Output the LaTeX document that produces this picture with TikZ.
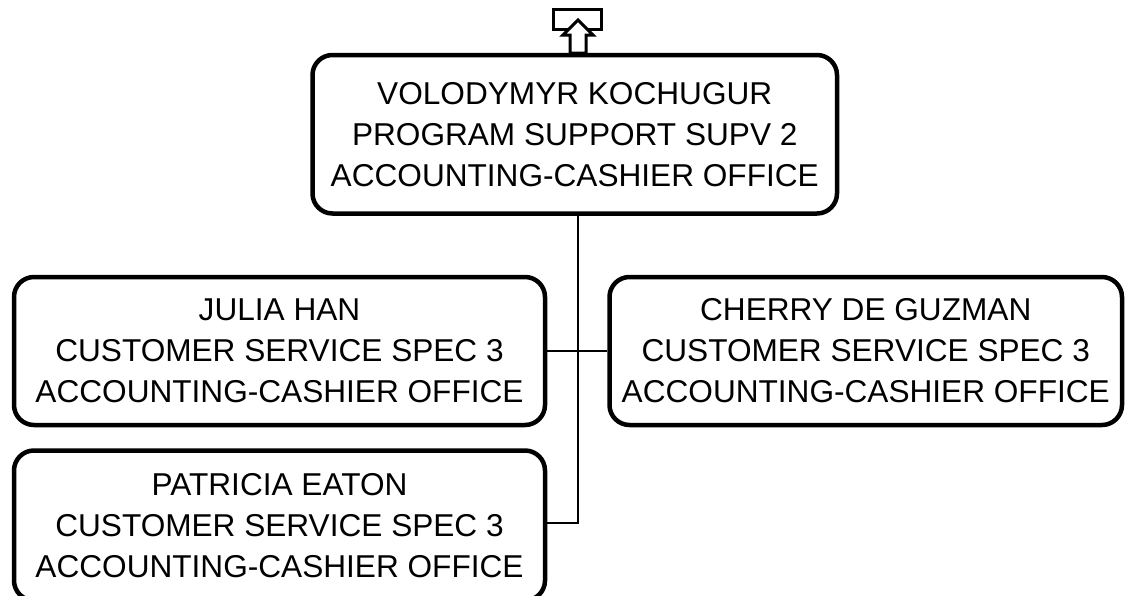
\documentclass[tikz,border=0pt]{standalone}
\usepackage{fontspec}
\setmainfont{Liberation Sans}
\begin{document}
\begin{tikzpicture}[x=1pt,y=-1pt,
  person/.style={draw=black, line width=4.5pt, rounded corners=20pt, fill=white,
    align=center, inner sep=0pt, minimum height=148pt,
    font=\fontsize{31.6}{41}\selectfont},
  link/.style={draw=black, line width=2pt},
  icon/.style={draw=black, line width=3pt, fill=white}]
\useasboundingbox (0,0) rectangle (1128,595);
% top manager
\node[person, minimum width=524.5pt, minimum height=158.5pt] (top) at (574.75,134.25)
  {VOLODYMYR KOCHUGUR\\PROGRAM SUPPORT SUPV 2\\ACCOUNTING-CASHIER OFFICE};
\node[person, minimum width=531pt] (julia) at (279.5,351)
  {JULIA HAN\\CUSTOMER SERVICE SPEC 3\\ACCOUNTING-CASHIER OFFICE};
\node[person, minimum width=512.5pt] (cherry) at (865.75,351)
  {CHERRY DE GUZMAN\\CUSTOMER SERVICE SPEC 3\\ACCOUNTING-CASHIER OFFICE};
\node[person, minimum width=531pt, minimum height=150pt] (patricia) at (279.5,525.5)
  {PATRICIA EATON\\CUSTOMER SERVICE SPEC 3\\ACCOUNTING-CASHIER OFFICE};
% connectors
\coordinate (spine) at (577.5,351);
\coordinate (pj) at (577.5,523);
\draw[link] (top.south -| spine) -- (pj) -- (pj -| patricia.east);
\draw[link] (julia.east) -- (cherry.west);
% up icon
\draw[icon] (553.5,9.5) rectangle (601.5,29.5);
\draw[icon, line join=miter] (578,20) -- (593,35) -- (586,35) -- (586,53) -- (570,53) -- (570,35) -- (563,35) -- cycle;
\end{tikzpicture}
\end{document}
